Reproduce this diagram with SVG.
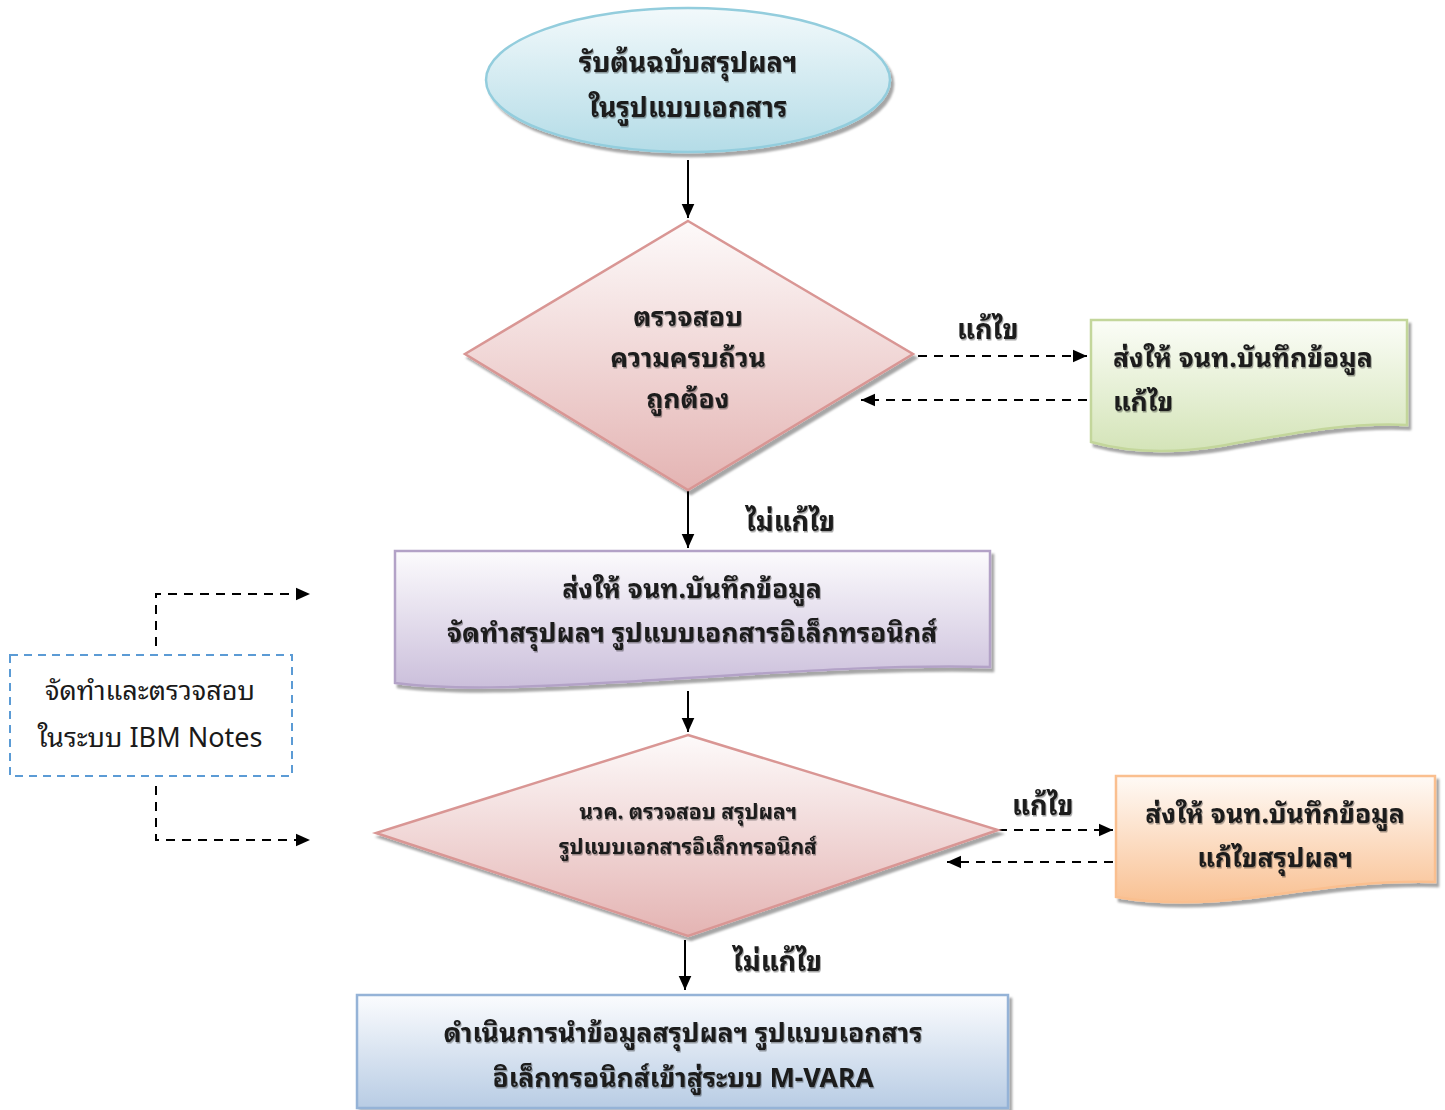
<svg xmlns="http://www.w3.org/2000/svg" width="1445" height="1110" viewBox="0 0 1445 1110">
<defs>
<linearGradient id="gBlue" x1="0" y1="0" x2="0" y2="1"><stop offset="0" stop-color="#f2f9fb"/><stop offset="1" stop-color="#b4dce7"/></linearGradient>
<linearGradient id="gPink" x1="0" y1="0" x2="0" y2="1"><stop offset="0" stop-color="#fdfafa"/><stop offset="1" stop-color="#e4b4b3"/></linearGradient>
<linearGradient id="gGreen" x1="0" y1="0" x2="0" y2="1"><stop offset="0" stop-color="#fbfdf7"/><stop offset="1" stop-color="#d4e4b8"/></linearGradient>
<linearGradient id="gPurple" x1="0" y1="0" x2="0" y2="1"><stop offset="0" stop-color="#fcfbfd"/><stop offset="1" stop-color="#cbbfdb"/></linearGradient>
<linearGradient id="gOrange" x1="0" y1="0" x2="0" y2="1"><stop offset="0" stop-color="#fffaf6"/><stop offset="1" stop-color="#f9c193"/></linearGradient>
<linearGradient id="gSteel" x1="0" y1="0" x2="0" y2="1"><stop offset="0" stop-color="#fbfcfe"/><stop offset="1" stop-color="#b8cce4"/></linearGradient>
<filter id="sh" x="-5%" y="-5%" width="115%" height="120%"><feDropShadow dx="3" dy="4" stdDeviation="1" flood-color="#000" flood-opacity="0.35"/></filter>
<filter id="tsh" x="-5%" y="-20%" width="110%" height="140%"><feDropShadow dx="1" dy="1.5" stdDeviation="0.6" flood-color="#000" flood-opacity="0.35"/></filter>
<marker id="ahb" viewBox="0 0 10 10" refX="10" refY="5" markerWidth="14" markerHeight="14" markerUnits="userSpaceOnUse" orient="auto"><path d="M0,0.5 L10,5 L0,9.5 Z" fill="#000"/></marker>
</defs>
<style>
.t{font-family:"Noto Sans Thai Looped","Noto Serif Thai","Noto Sans Thai","Noto Sans","DejaVu Sans",sans-serif;font-weight:bold;fill:#1a1a1a;text-anchor:middle;filter:url(#tsh)}
.tl{font-family:"Noto Sans Thai Looped","Noto Serif Thai","Noto Sans Thai","Noto Sans","DejaVu Sans",sans-serif;font-weight:bold;fill:#1a1a1a;filter:url(#tsh)}
.tn{font-family:"Noto Sans Thai Looped","Noto Serif Thai","Noto Sans Thai","Noto Sans","DejaVu Sans",sans-serif;fill:#1a1a1a;text-anchor:middle}
.c{fill:none;stroke:#000;stroke-width:2}
.d{fill:none;stroke:#000;stroke-width:2;stroke-dasharray:9 7}
</style>
<g id="connectors">
<line class="c" x1="688" y1="160" x2="688" y2="218" marker-end="url(#ahb)"/>
<line class="c" x1="688" y1="490" x2="688" y2="548" marker-end="url(#ahb)"/>
<line class="c" x1="688" y1="691" x2="688" y2="732" marker-end="url(#ahb)"/>
<line class="c" x1="685" y1="940" x2="685" y2="990" marker-end="url(#ahb)"/>
<line class="d" x1="918" y1="356" x2="1087" y2="356" marker-end="url(#ahb)"/>
<line class="d" x1="1087" y1="400" x2="861" y2="400" marker-end="url(#ahb)"/>
<line class="d" x1="998" y1="830" x2="1113" y2="830" marker-end="url(#ahb)"/>
<line class="d" x1="1113" y1="862" x2="947" y2="862" marker-end="url(#ahb)"/>
<polyline class="d" points="156,646 156,594 310,594" marker-end="url(#ahb)"/>
<polyline class="d" points="156,786 156,840 310,840" marker-end="url(#ahb)"/>
<text class="tl" x="957" y="339" font-size="27">แก้ไข</text>
<text class="tl" x="746" y="531" font-size="27">ไม่แก้ไข</text>
<text class="tl" x="1012" y="815" font-size="27">แก้ไข</text>
<text class="tl" x="733" y="971" font-size="27">ไม่แก้ไข</text>
</g>
<g id="start">
<ellipse cx="688" cy="80" rx="202" ry="72" fill="url(#gBlue)" stroke="#93cddd" stroke-width="2.5" filter="url(#sh)"/>
<text class="t" x="688" y="72" font-size="27">รับต้นฉบับสรุปผลฯ</text>
<text class="t" x="688" y="117" font-size="27">ในรูปแบบเอกสาร</text>
</g>
<g id="check1">
<polygon points="688,221 913,354 688,490 465,354" fill="url(#gPink)" stroke="#d99694" stroke-width="2.5" filter="url(#sh)"/>
<text class="t" x="688" y="326" font-size="26.5">ตรวจสอบ</text>
<text class="t" x="688" y="367" font-size="26.5">ความครบถ้วน</text>
<text class="t" x="688" y="408" font-size="26.5">ถูกต้อง</text>
</g>
<g id="fix1">
<path d="M1091,320 H1407 V425 C1340,422 1280,436 1220,446 C1160,456 1120,450 1091,442 Z" fill="url(#gGreen)" stroke="#c3d69b" stroke-width="2.5" filter="url(#sh)"/>
<text class="tl" x="1113" y="367" font-size="26.5">ส่งให้ จนท.บันทึกข้อมูล</text>
<text class="tl" x="1113" y="411" font-size="26.5">แก้ไข</text>
</g>
<g id="prepare">
<path d="M395,551 H990 V667 C880,664 760,674 620,682 C520,688 450,690 395,683 Z" fill="url(#gPurple)" stroke="#b3a2c7" stroke-width="2.5" filter="url(#sh)"/>
<text class="t" x="692" y="598" font-size="26.5">ส่งให้ จนท.บันทึกข้อมูล</text>
<text class="t" x="692" y="642" font-size="26.5">จัดทำสรุปผลฯ รูปแบบเอกสารอิเล็กทรอนิกส์</text>
</g>
<g id="ibm">
<rect x="10" y="655" width="282" height="121" fill="#fff" stroke="#5b9bd5" stroke-width="2" stroke-dasharray="8 6"/>
<text class="tn" x="150" y="700" font-size="27">จัดทำและตรวจสอบ</text>
<text class="tn" x="150" y="747" font-size="27">ในระบบ IBM Notes</text>
</g>
<g id="check2">
<polygon points="688,735 998,830 688,936 376,833" fill="url(#gPink)" stroke="#d99694" stroke-width="2.5" filter="url(#sh)"/>
<text class="t" x="688" y="819" font-size="21">นวค. ตรวจสอบ สรุปผลฯ</text>
<text class="t" x="688" y="854" font-size="21">รูปแบบเอกสารอิเล็กทรอนิกส์</text>
</g>
<g id="fix2">
<path d="M1116,776 H1435 V882 C1370,880 1310,890 1250,898 C1190,905 1150,903 1116,897 Z" fill="url(#gOrange)" stroke="#fabf8f" stroke-width="2.5" filter="url(#sh)"/>
<text class="t" x="1275" y="823" font-size="26.5">ส่งให้ จนท.บันทึกข้อมูล</text>
<text class="t" x="1275" y="867" font-size="26.5">แก้ไขสรุปผลฯ</text>
</g>
<g id="import">
<rect x="357" y="995" width="651" height="113" fill="url(#gSteel)" stroke="#95b3d7" stroke-width="2.5" filter="url(#sh)"/>
<text class="t" x="683" y="1042" font-size="26.5">ดำเนินการนำข้อมูลสรุปผลฯ รูปแบบเอกสาร</text>
<text class="t" x="683" y="1087" font-size="26.5">อิเล็กทรอนิกส์เข้าสู่ระบบ M-VARA</text>
</g>
</svg>
